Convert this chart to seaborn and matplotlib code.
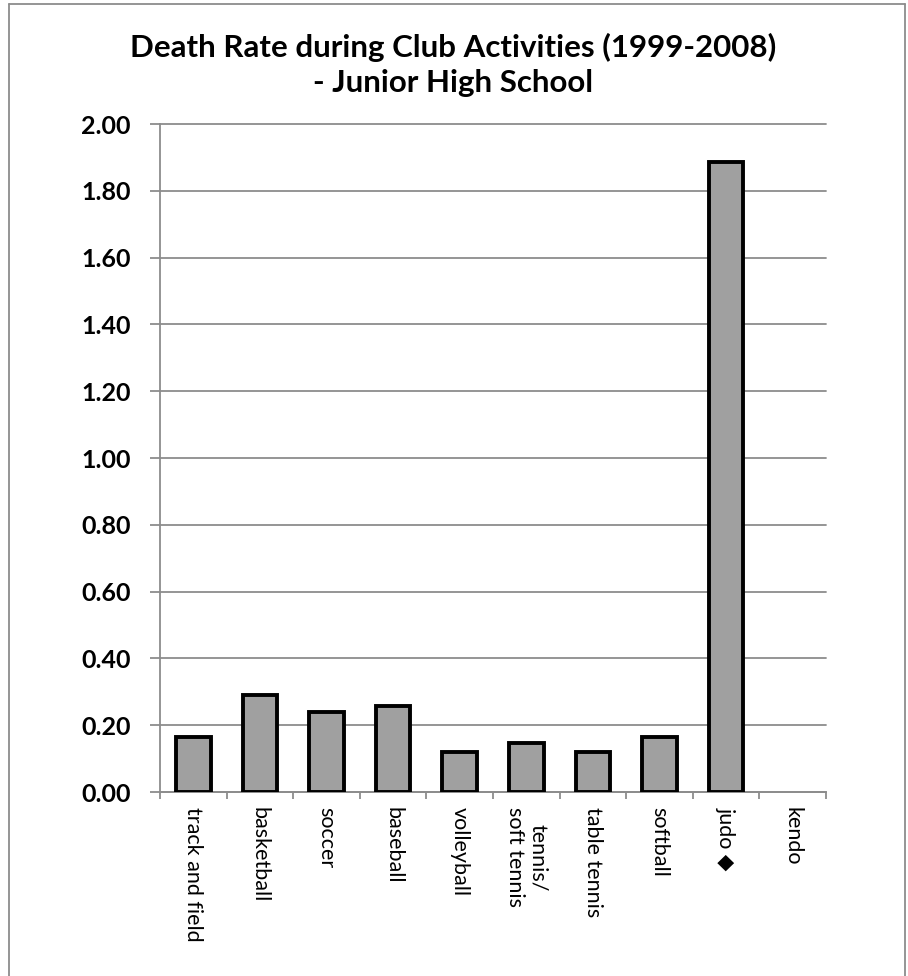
import matplotlib
matplotlib.use('Agg')
import matplotlib.pyplot as plt
from matplotlib.lines import Line2D
import seaborn as sns
import pandas as pd
import numpy as np

categories = ["track and field", "basketball", "soccer", "baseball", "volleyball",
              "tennis/\nsoft tennis", "table tennis", "softball", "judo \u25C6", "kendo"]
rates = [0.165, 0.29, 0.24, 0.258, 0.12, 0.147, 0.12, 0.165, 1.886, 0.0]
y_ticks = [0.0, 0.2, 0.4, 0.6, 0.8, 1.0, 1.2, 1.4, 1.6, 1.8, 2.0]
y_tick_labels = ["0.00", "0.20", "0.40", "0.60", "0.80", "1.00", "1.20", "1.40", "1.60", "1.80", "2.00"]
title = "Death Rate during Club Activities (1999-2008)\n- Junior High School"

sns.set_theme(style='white')
plt.rcParams['font.family'] = ['Lato', 'DejaVu Sans']

fig = plt.figure(figsize=(9.08, 9.76), dpi=100)
ax = fig.add_axes([160/908, 1-792/976, (826-160)/908, (792-124)/976])

df = pd.DataFrame({'sport': categories, 'rate': rates})
sns.barplot(data=df, x='sport', y='rate', color='#a0a0a0', saturation=1,
            width=0.52, edgecolor='black', linewidth=2.8, ax=ax, zorder=3)
for p in ax.patches:
    if p.get_height() == 0:
        p.set_linewidth(0)

ax.set_xlim(-0.5, len(categories) - 0.5)
ax.set_ylim(0, 2.0)
ax.set_yticks(y_ticks)
ax.set_yticklabels(y_tick_labels, fontsize=18, fontweight='bold', color='black')
ax.yaxis.grid(True, color='#8c8c8c', linewidth=1.3, zorder=0)
for gl in ax.get_ygridlines():
    gl.set_clip_on(False)
ax.set_axisbelow(True)
ax.tick_params(axis='y', which='major', direction='out', length=7, width=1.3,
               color='#8c8c8c', pad=14, left=True)
ax.set_xticks(range(len(categories)))
ax.set_xticklabels(categories, rotation=-90, fontsize=15.5, va='top', ha='center',
                   multialignment='center', color='black')
ax.set_xticks(np.arange(-0.5, len(categories), 1.0), minor=True)
ax.tick_params(axis='x', which='major', length=0, pad=11)
ax.tick_params(axis='x', which='minor', direction='out', length=5, width=1.3,
               color='#8c8c8c', bottom=True)
ax.set_xlabel('')
ax.set_ylabel('')
for s in ['top', 'right']:
    ax.spines[s].set_visible(False)
for s in ['left', 'bottom']:
    ax.spines[s].set_color('#8c8c8c')
    ax.spines[s].set_linewidth(1.3)

fig.text(453/908, 1-65/976, title, ha='center', va='center', fontsize=22.5,
         fontweight='bold', linespacing=1.3, color='black')

bc = '#8c8c8c'
fig.add_artist(Line2D([9/908, 9/908], [0, 1-4/976], color=bc, linewidth=1.3, transform=fig.transFigure))
fig.add_artist(Line2D([9/908, 905/908], [1-4/976, 1-4/976], color=bc, linewidth=1.3, transform=fig.transFigure))
fig.add_artist(Line2D([905/908, 905/908], [0, 1-4/976], color=bc, linewidth=1.3, transform=fig.transFigure))

fig.savefig('out.png', dpi=100)
